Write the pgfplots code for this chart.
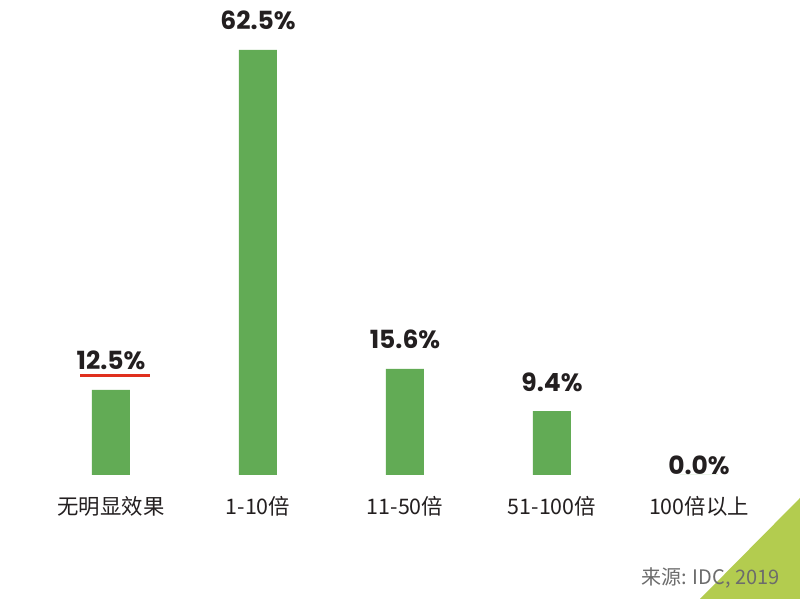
\documentclass[border=0pt]{standalone}
\usepackage{fontspec}
\usepackage{pgfplots}
\pgfplotsset{compat=1.18}
\setmainfont{Poppins}
\newfontfamily\cjk{Noto Sans CJK SC}

\definecolor{barg}{HTML}{62AB55}
\definecolor{tri}{HTML}{B3CC4F}
\definecolor{txt}{HTML}{231F20}
\definecolor{ul}{HTML}{E0301E}

\begin{document}
\begin{tikzpicture}
  % canvas: 800x599 px at 0.5pt per px
  \useasboundingbox[fill=white] (0,0) rectangle (400pt,299.5pt);
  \fill[tri] (400pt,50.5pt) -- (400pt,0) -- (350pt,0) -- cycle;

  \begin{axis}[
    at={(0,62pt)}, anchor=south west,
    scale only axis, width=400pt, height=212.5pt,
    xmin=-0.755, xmax=4.687, ymin=0, ymax=62.5,
    axis line style={draw=none}, tick style={draw=none},
    ytick=\empty,
    xtick={0,1,2,3,4},
    xticklabels={无明显效果,1-10倍,11-50倍,51-100倍,100倍以上},
    xticklabel style={font=\cjk\fontsize{10.7}{12}\selectfont, text=txt, anchor=center, yshift=-11.5pt},
    ybar, bar width=19pt,
    visualization depends on={ifthenelse(y==0,-10,0) \as \zshift},
    nodes near coords={\pgfmathprintnumber[fixed,fixed zerofill,precision=1,assume math mode=true]{\pgfplotspointmeta}\%},
    every node near coord/.append style={font=\bfseries\fontsize{12.5}{14}\selectfont, text=txt, anchor=base, yshift=10pt+\zshift pt},
    clip=false,
  ]
  \addplot[fill=barg, draw=none] coordinates {
    (0,12.5) (1,62.5) (2,15.6) (3,9.4) (4,0.0)
  };
  \end{axis}

  \draw[ul, line width=1.5pt] (40pt,111.5pt) -- (75pt,111.5pt);
  \node[anchor=east, text=gray!85!black, font=\cjk\fontsize{10}{12}\selectfont, inner sep=0pt] at (390pt,10.5pt) {来源: IDC, 2019};
\end{tikzpicture}
\end{document}
